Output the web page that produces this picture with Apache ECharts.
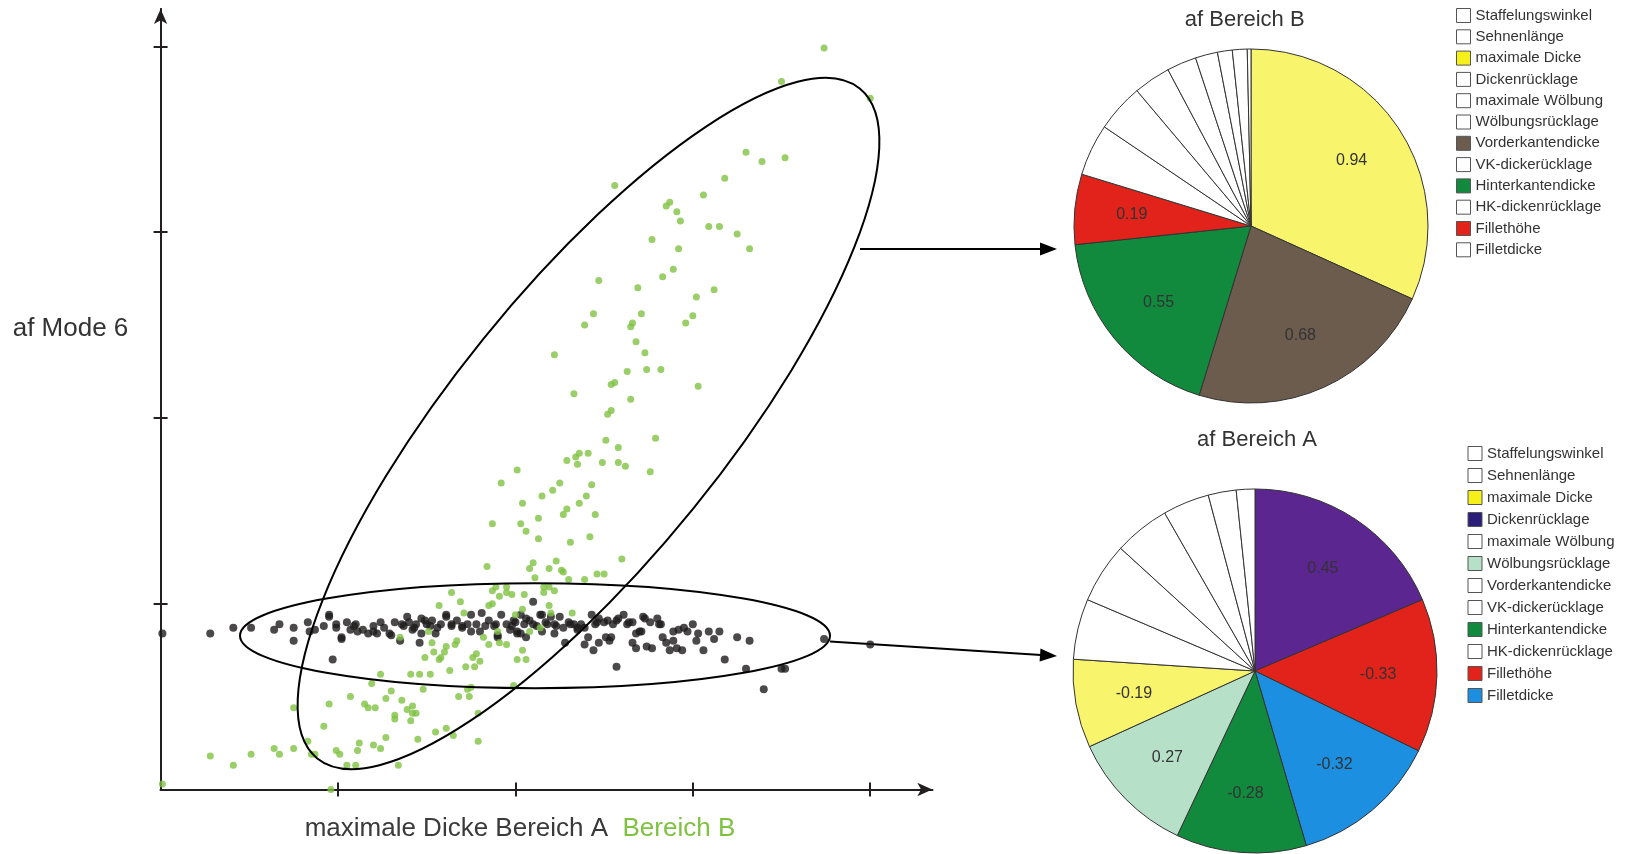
<!DOCTYPE html>
<html><head><meta charset="utf-8">
<script src="https://cdn.jsdelivr.net/npm/echarts@6/dist/echarts.min.js"></script>
<style>html,body{margin:0;padding:0;background:#fff}#c{width:1625px;height:854px}</style>
</head><body><div id="c"></div>
<script>
// ---------------- data ----------------
const legendNames = ['Staffelungswinkel','Sehnenlänge','maximale Dicke','Dickenrücklage','maximale Wölbung','Wölbungsrücklage','Vorderkantendicke','VK-dickerücklage','Hinterkantendicke','HK-dickenrücklage','Fillethöhe','Filletdicke'];
// values in legend order (slice size = |value|)
const bereichBValues = [0.14,0.13,0.94,0.10,0.08,0.06,0.68,0.04,0.55,0.04,0.19,0.01];
const bereichAValues = [0.13,0.13,-0.19,0.45,0.12,0.27,0.10,0.06,-0.28,0.04,-0.33,-0.32];
const xTickValues = [1,2,3,4];
const yTickValues = [1,2,3,4];
const pieTitles = ['af Bereich B','af Bereich A'];
const yAxisName = 'af Mode 6';
const xAxisNameA = 'maximale Dicke Bereich A';
const xAxisNameB = 'Bereich B';

// scatter: "maximale Dicke" (x) vs "af Mode 6" (y)
const bereichAPoints = [
[0.01,0.84],[0.28,0.84],[0.41,0.87],[0.51,0.87],[0.64,0.86],[0.67,0.89],[0.75,0.87],[0.75,0.80],[0.83,0.90],[0.84,0.85],[0.87,0.86],[0.92,0.88],[0.95,0.93],[0.99,0.87],[0.97,0.70],[1.02,0.81],[1.05,0.90],[1.07,0.86],[1.10,0.89],[1.11,0.85],[1.14,0.86],[1.17,0.84],[1.20,0.88],[1.22,0.84],[1.24,0.90],[1.26,0.87],[1.29,0.84],[1.32,0.90],[1.35,0.80],[1.37,0.88],[1.40,0.90],[1.42,0.86],[1.44,0.89],[1.46,0.79],[1.47,0.84],[1.49,0.91],[1.52,0.88],[1.55,0.84],[1.58,0.89],[1.61,0.93],[1.64,0.88],[1.67,0.91],[1.70,0.87],[1.73,0.89],[1.75,0.94],[1.78,0.89],[1.80,0.85],[1.83,0.88],[1.85,0.91],[1.88,0.88],[1.90,0.82],[1.92,0.94],[1.95,0.89],[1.97,0.86],[2.00,0.90],[2.03,0.84],
[2.10,1.01],[1.99,0.91],[2.03,0.94],[2.06,0.92],[2.10,0.89],[2.14,0.94],[2.17,0.90],[2.20,0.93],[2.22,0.89],[2.25,0.93],[2.27,0.87],[2.30,0.90],[2.33,0.89],[2.35,0.86],[2.37,0.89],[2.39,0.87],[2.43,0.94],[2.45,0.89],[2.47,0.92],[2.50,0.90],[2.52,0.91],[2.55,0.89],[2.58,0.92],[2.61,0.94],[2.63,0.89],[2.66,0.90],[2.68,0.84],[2.70,0.85],[2.72,0.93],[2.76,0.90],[2.80,0.92],[2.82,0.89],[2.01,0.84],[2.06,0.82],[2.15,0.85],[2.22,0.84],[2.28,0.79],[2.39,0.78],[2.41,0.82],[2.44,0.75],[2.47,0.79],[2.53,0.80],[2.54,0.82],[2.57,0.66],[2.66,0.79],[2.68,0.76],[2.74,0.77],[2.77,0.76],[2.83,0.82],[2.85,0.79],[2.87,0.75],[2.89,0.80],[2.91,0.76],[2.94,0.75],[2.92,0.86],[2.97,0.85],[3.00,0.89],[3.03,0.84],[3.02,0.80],[3.06,0.75],[3.09,0.85],[3.12,0.81],[3.15,0.85],[3.18,0.70],[3.25,0.82],[3.32,0.80],[3.30,0.65],[3.40,0.54],[3.50,0.65],[3.52,0.65],[3.74,0.81],[4.00,0.78],
[0.95,0.94],[0.99,0.89],[1.02,0.82],[1.09,0.88],[1.20,0.85],[1.30,0.83],[1.36,0.89],[1.39,0.93],[1.43,0.87],[1.47,0.92],[1.50,0.89],[1.53,0.91],[1.56,0.87],[1.61,0.94],[1.64,0.89],[1.70,0.88],[1.75,0.85],[1.81,0.95],[1.89,0.89],[1.90,0.83],[1.98,0.88],[2.01,0.85],[2.05,0.89],[2.08,0.91],[2.12,0.88],[2.15,0.94],[2.18,0.89],[2.23,0.88],[2.31,0.89],[2.35,0.87],[2.46,0.90],[2.51,0.82],[2.57,0.91],[2.64,0.90],[2.71,0.85],[2.73,0.92],[2.81,0.89],[2.89,0.85],[2.95,0.87]
];
const bereichBPoints = [
[3.74,3.99],[3.50,3.81],[4.00,3.72],[3.30,3.43],[3.39,3.38],[3.52,3.40],[3.18,3.29],[2.56,3.25],[3.06,3.20],[2.87,3.16],[2.85,3.14],[2.91,3.11],[2.93,3.06],[3.09,3.03],[3.15,3.03],[3.25,2.99],[2.77,2.96],[2.92,2.91],[3.32,2.91],[2.89,2.80],[2.83,2.76],[2.47,2.74],[2.69,2.70],[3.12,2.69],[3.02,2.65],[2.44,2.56],[2.71,2.56],[3.00,2.55],[2.39,2.50],[2.66,2.51],[2.65,2.49],[2.96,2.51],
[2.22,2.34],[2.68,2.41],[2.73,2.35],[2.63,2.25],[2.74,2.26],[2.82,2.26],[3.03,2.17],[2.54,2.18],[2.56,2.19],[2.33,2.13],[2.65,2.10],[2.52,2.02],[2.54,2.04],[2.79,1.89],[2.51,1.88],[2.58,1.84],[2.29,1.77],[2.34,1.79],[2.36,1.81],[2.41,1.81],[2.35,1.75],[2.49,1.76],[2.58,1.76],[2.62,1.74],[2.76,1.71],[2.01,1.72],[1.92,1.65],[2.25,1.65],[2.21,1.61],[2.43,1.64],[2.15,1.58],[2.40,1.58],[2.36,1.54],[2.04,1.54],[2.29,1.51],[2.27,1.48],[2.45,1.48],[2.13,1.46],[1.87,1.43],[2.03,1.43],[2.06,1.39],[2.13,1.35],[2.31,1.33],[2.42,1.36],[2.60,1.24],[1.84,1.20],[2.10,1.22],[2.08,1.19],[2.19,1.19],[2.23,1.23],[2.26,1.18],[2.27,1.17],[2.11,1.14],[2.30,1.13],[2.39,1.13],[2.46,1.16],[2.50,1.16],[1.89,1.09],[1.95,1.09],[2.16,1.09],[2.19,1.09],[1.64,1.06],[1.87,1.07],[1.95,1.06],[1.98,1.05],[2.05,1.05],[2.22,1.07],[2.16,1.06],[1.91,1.04],
[1.69,1.01],[1.57,0.99],[1.85,0.99],[1.87,1.00],[1.71,0.95],[2.00,0.94],[1.51,0.85],[1.35,0.82],[1.67,0.80],[1.66,0.78],[1.53,0.79],[1.61,0.77],[1.60,0.74],[1.58,0.71],[1.57,0.70],[1.85,0.78],[1.91,0.79],[1.95,0.78],[1.82,0.82],[1.90,0.85],[1.54,0.74],[1.49,0.71],[1.78,0.73],[1.76,0.71],[2.01,0.70],[1.80,0.69],[1.77,0.66],[1.72,0.66],[1.63,0.64],[1.41,0.62],[1.46,0.62],[1.52,0.62],[1.24,0.62],[1.19,0.57],[1.75,0.55],[1.48,0.54],[1.73,0.54],[1.74,0.50],[1.68,0.50],[1.99,0.56],[1.07,0.50],[0.95,0.46],[1.15,0.46],[1.17,0.44],[1.21,0.44],[1.27,0.49],[1.30,0.53],[1.36,0.48],[1.39,0.43],[1.42,0.45],[1.44,0.41],[1.42,0.41],[0.75,0.44],[1.32,0.40],[1.32,0.38],[1.41,0.37],[1.79,0.41],[0.92,0.34],[1.27,0.28],[1.45,0.27],[1.55,0.31],[1.61,0.33],[1.65,0.29],[1.79,0.26],[0.83,0.26],[0.64,0.22],[0.67,0.19],[0.75,0.22],[0.85,0.19],[0.87,0.19],[0.51,0.19],[0.28,0.18],[0.41,0.13],[0.99,0.21],[1.01,0.19],[1.12,0.25],[1.11,0.21],[1.20,0.24],[1.24,0.22],[1.05,0.13],[1.10,0.13],[1.34,0.13],[0.01,0.03],[0.96,0.00],
[2.04,0.97],[2.08,0.85],[2.14,0.87],[2.19,0.99],[2.20,0.95],[2.32,0.95],[2.04,0.75],[2.06,0.70]
];

// ---------------- styles ----------------
const FONT = '"Liberation Sans", Arial, Helvetica, sans-serif';
const W = '#ffffff';
const bereichBColors = [W,W,'#f8f46c',W,W,W,'#6b5c4d',W,'#118a3e',W,'#e2231c',W];
const bereichAColors = [W,W,'#f8f46c','#5b2690',W,'#b7e0c9',W,W,'#118a3e',W,'#e2231c','#1c8fe0'];
const bereichALegendColors = [W,W,'#f6f01a','#2b1d7a',W,'#b7e0c9',W,W,'#118a3e',W,'#e2231c','#1c8fe0'];
const bereichBLegendColors = [W,W,'#f6f01a',W,W,W,'#6b5c4d',W,'#118a3e',W,'#e2231c',W];
const axisColor = '#231f20';
const greenColor = '#7fc242';
const blackColor = '#1e1b1c';

function pieData(values, colors, transparent) {
  return legendNames.map((n, i) => ({
    name: n,
    value: Math.abs(values[i]),
    raw: values[i],
    labelled: colors[i] !== W,
    itemStyle: transparent ? {color: 'rgba(0,0,0,0)', borderWidth: 0} : {color: colors[i]}
  })).sort((a, b) => b.value - a.value);
}
function legendData(colors) {
  return legendNames.map((n, i) => ({name: n, itemStyle: {color: colors[i], borderColor: '#555', borderWidth: 1}}));
}

const pieB = {center: [1251, 226], r: 177};
const pieA = {center: [1255, 671], r: 182};

function pieSeries(name, values, colors, geo) {
  return [{
    name: name, type: 'pie', center: geo.center, radius: [0, geo.r],
    startAngle: 90, clockwise: true, avoidLabelOverlap: false, silent: true,
    label: {show: false}, labelLine: {show: false},
    itemStyle: {borderColor: '#333', borderWidth: 1},
    emphasis: {disabled: true},
    data: pieData(values, colors, false)
  }, {
    name: name + ' labels', type: 'pie', center: geo.center, radius: [geo.r * 0.32, geo.r],
    startAngle: 90, clockwise: true, avoidLabelOverlap: false, silent: true,
    labelLine: {show: false}, emphasis: {disabled: true},
    label: {show: true, position: 'inside', fontFamily: FONT, fontSize: 16, color: '#333',
      formatter: p => p.data.labelled ? String(p.data.raw) : ''},
    data: pieData(values, colors, true)
  }];
}

function axisPair(isX, max, name, nameGap, nameStyle) {
  const base = {
    type: 'value', min: 0, max: max, interval: 1, gridIndex: 0,
    axisLabel: {show: false}, splitLine: {show: false},
    position: isX ? 'bottom' : 'left'
  };
  return [Object.assign({}, base, {
    axisLine: {show: true, symbol: ['none', 'arrow'], symbolSize: [10, 15], lineStyle: {color: axisColor, width: 2}},
    axisTick: {show: true, customValues: isX ? xTickValues : yTickValues, length: 7, lineStyle: {color: axisColor, width: 2}},
    name: name, nameLocation: 'middle', nameGap: nameGap, nameRotate: 0, nameTextStyle: nameStyle
  }), Object.assign({}, base, {
    axisLine: {show: true, lineStyle: {color: axisColor, width: 2}},
    axisTick: {show: true, inside: true, customValues: isX ? xTickValues : yTickValues, length: 7, lineStyle: {color: axisColor, width: 2}}
  })];
}

const chart = echarts.init(document.getElementById('c'), null, {renderer: 'canvas'});

// annotation geometry (pixels)
const ellB = {cx: 588.5, cy: 423.5, rx: 431, ry: 135, deg: 51};
const ellA = {cx: 535, cy: 635.7, rx: 295, ry: 52.5, deg: 0};
const arrows = [[[860, 249], [1057, 249]], [[830, 641.5], [1057, 656]]];

function arrowElems(p1, p2) {
  const a = Math.atan2(p2[1] - p1[1], p2[0] - p1[0]);
  const len = 17, hw = 6.5;
  const bx = p2[0] - len * Math.cos(a), by = p2[1] - len * Math.sin(a);
  const px = -Math.sin(a) * hw, py = Math.cos(a) * hw;
  return [
    {type: 'line', silent: true, shape: {x1: p1[0], y1: p1[1], x2: bx + Math.cos(a), y2: by + Math.sin(a)}, style: {stroke: '#000', lineWidth: 2}},
    {type: 'polygon', silent: true, shape: {points: [[p2[0], p2[1]], [bx + px, by + py], [bx - px, by - py]]}, style: {fill: '#000'}}
  ];
}
function ellipseElem(e) {
  return {type: 'ellipse', silent: true, x: e.cx, y: e.cy, rotation: e.deg * Math.PI / 180,
    shape: {cx: 0, cy: 0, rx: e.rx, ry: e.ry}, style: {fill: 'none', stroke: '#000', lineWidth: 2}, z: 10};
}
function textElem(t, x, y, size) {
  return {type: 'text', silent: true, x: x, y: y,
    style: {text: t, font: size + 'px ' + FONT, fill: '#333', align: 'center', verticalAlign: 'middle', textAlign: 'center', textVerticalAlign: 'middle'}};
}

const xs = axisPair(true, 4.35, '{a|' + xAxisNameA + '}  {b|' + xAxisNameB + '}', 26.5,
  {fontFamily: FONT, fontSize: 26, padding: [0, 53, 0, 0],
   rich: {a: {fontFamily: FONT, fontSize: 26, color: '#3a3a3a'}, b: {fontFamily: FONT, fontSize: 26, color: greenColor}}});
const ys = axisPair(false, 4.2, '', 32, {fontFamily: FONT, fontSize: 26, color: '#333'});

const option = {
  backgroundColor: '#fff',
  animation: false,
  grid: {left: 160.6, top: 9.1, right: 692.7, bottom: 64.5, containLabel: false, outerBoundsMode: 'none'},
  xAxis: xs,
  yAxis: ys,
  legend: [
    {orient: 'vertical', left: 1456, top: 8, padding: 0, itemWidth: 14, itemHeight: 14, itemGap: 6.3,
     icon: 'rect', selectedMode: false, textStyle: {fontFamily: FONT, fontSize: 15, color: '#333'},
     data: legendData(bereichBLegendColors)},
    {orient: 'vertical', left: 1467.5, top: 446, padding: 0, itemWidth: 14, itemHeight: 14, itemGap: 7,
     icon: 'rect', selectedMode: false, textStyle: {fontFamily: FONT, fontSize: 15, color: '#333'},
     data: legendData(bereichALegendColors)}
  ],
  series: [
    {name: 'Bereich A', type: 'scatter', xAxisIndex: 0, yAxisIndex: 0, symbol: 'circle', symbolSize: 8,
     itemStyle: {color: blackColor}, silent: true, data: bereichAPoints, z: 3},
    {name: 'Bereich B', type: 'scatter', xAxisIndex: 0, yAxisIndex: 0, symbol: 'circle', symbolSize: 7,
     itemStyle: {color: greenColor}, silent: true, data: bereichBPoints, z: 4}
  ].concat(pieSeries(pieTitles[0], bereichBValues, bereichBColors, pieB))
   .concat(pieSeries(pieTitles[1], bereichAValues, bereichAColors, pieA)),
  graphic: [
    ellipseElem(ellB), ellipseElem(ellA),
    textElem(yAxisName, 70.5, 329, 26),
    textElem(pieTitles[0], 1244.7, 19.5, 22),
    textElem(pieTitles[1], 1257, 439.5, 22)
  ].concat(arrowElems(arrows[0][0], arrows[0][1])).concat(arrowElems(arrows[1][0], arrows[1][1]))
};
chart.setOption(option);
</script></body></html>
